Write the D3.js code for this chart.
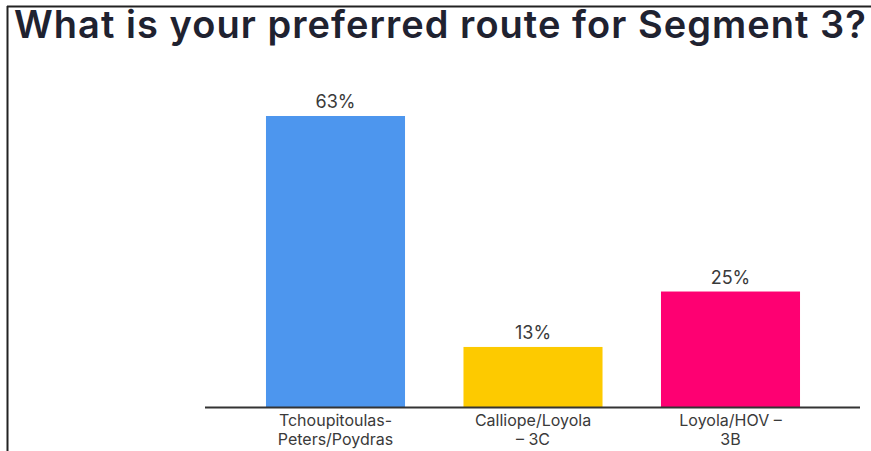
<!DOCTYPE html>
<html><head><meta charset="utf-8">
<script src="https://cdn.jsdelivr.net/npm/d3@7"></script>
<style>html,body{margin:0;padding:0;background:#fff;}svg{display:block;}</style>
</head><body>
<svg id="c" width="871" height="451"></svg>
<script>
const title = "What is your preferred route for Segment 3?";
const categories = ["Tchoupitoulas-Peters/Poydras", "Calliope/Loyola – 3C", "Loyola/HOV – 3B"];
const categoryLines = [["Tchoupitoulas-", "Peters/Poydras"], ["Calliope/Loyola", "– 3C"], ["Loyola/HOV –", "3B"]];
const values = [63, 13, 25];
const colors = ["#4d96ee", "#fdca00", "#fe0072"];

const svg = d3.select("#c");
const font = "Inter, 'Noto Sans', sans-serif";
// frame lines
svg.append("line").attr("x1", 7).attr("x2", 871).attr("y1", 6.5).attr("y2", 6.5).attr("stroke", "#222").attr("stroke-width", 2);
svg.append("line").attr("x1", 7.5).attr("x2", 7.5).attr("y1", 6).attr("y2", 451).attr("stroke", "#222").attr("stroke-width", 2);

const t = svg.append("text").attr("x", 14).attr("y", 37.5)
  .attr("font-family", font).attr("font-weight", 600)
  .attr("fill", "#1f2230").attr("font-size", 38).text(title);
const tw = t.node().getComputedTextLength();
const n = title.length;
t.attr("letter-spacing", (853 - tw) / n);

const x = d3.scaleBand().domain(categories).range([236.75, 829.25]).paddingInner(0.296).paddingOuter(0.148);
const y = d3.scaleLinear().domain([0, 63]).range([407, 116]);

svg.selectAll("rect.bar").data(values).join("rect").attr("class", "bar")
  .attr("x", (d, i) => x(categories[i])).attr("width", x.bandwidth())
  .attr("y", d => y(d)).attr("height", d => y(0) - y(d))
  .attr("fill", (d, i) => colors[i]);

svg.selectAll("text.val").data(values).join("text").attr("class", "val")
  .attr("x", (d, i) => x(categories[i]) + x.bandwidth() / 2)
  .attr("y", d => y(d) - 8)
  .attr("text-anchor", "middle").attr("font-family", font)
  .attr("font-size", 18).attr("fill", "#3a3a3a").text(d => d + "%");

svg.append("line").attr("x1", 205).attr("x2", 860).attr("y1", y(0) + 0.5).attr("y2", y(0) + 0.5)
  .attr("stroke", "#333").attr("stroke-width", 2);

const cat = svg.selectAll("text.cat").data(categories).join("text").attr("class", "cat")
  .attr("x", d => x(d) + x.bandwidth() / 2).attr("y", 426)
  .attr("text-anchor", "middle").attr("font-family", font)
  .attr("font-size", 16).attr("fill", "#3a3a3a");
cat.each(function (d, i) {
  const el = d3.select(this);
  categoryLines[i].forEach((ln, j) => {
    el.append("tspan").attr("x", x(d) + x.bandwidth() / 2).attr("dy", j === 0 ? 0 : 19).text(ln);
  });
});
</script>
</body></html>
